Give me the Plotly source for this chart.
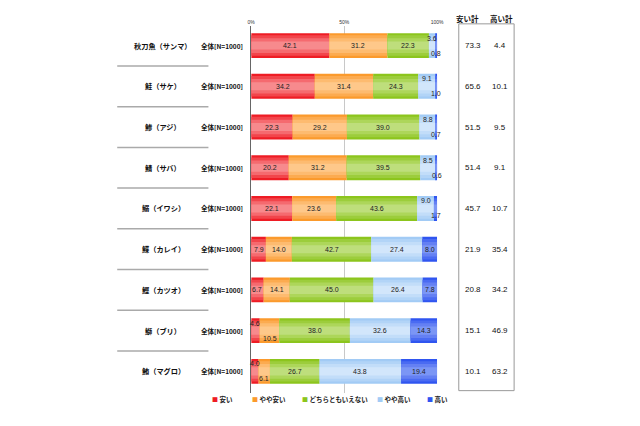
import plotly.graph_objects as go

# data
fish = ['秋刀魚（サンマ）', '鮭（サケ）', '鯵（アジ）', '鯖（サバ）', '鰯（イワシ）',
        '鰈（カレイ）', '鰹（カツオ）', '鰤（ブリ）', '鮪（マグロ）']
group_label = '全体[N=1000]'
answers = ['安い', 'やや安い', 'どちらともいえない', 'やや高い', '高い']

yasui = [42.1, 34.2, 22.3, 20.2, 22.1, 7.9, 6.7, 4.6, 4.0]
yaya_yasui = [31.2, 31.4, 29.2, 31.2, 23.6, 14.0, 14.1, 10.5, 6.1]
dochira = [22.3, 24.3, 39.0, 39.5, 43.6, 42.7, 45.0, 38.0, 26.7]
yaya_takai = [3.6, 9.1, 8.8, 8.5, 9.0, 27.4, 26.4, 32.6, 43.8]
takai = [0.8, 1.0, 0.7, 0.6, 1.7, 8.0, 7.8, 14.3, 19.4]

yasui_total = [73.3, 65.6, 51.5, 51.4, 45.7, 21.9, 20.8, 15.1, 10.1]
takai_total = [4.4, 10.1, 9.5, 9.1, 10.7, 35.4, 34.2, 46.9, 63.2]

tick_vals = [0, 50, 100]
tick_text = ['0%', '50%', '100%']

series = [yasui, yaya_yasui, dochira, yaya_takai, takai]

# edge -> centre tones to fake the gradient fill
shades = [
    ['#ee1c24', '#f2454b', '#f56a6f', '#f78a8d'],
    ['#fb9a2c', '#fcab50', '#fdbb70', '#fec88a'],
    ['#8cc51d', '#9ccd3c', '#add65a', '#bede7c'],
    ['#a2cbf5', '#b2d4f7', '#c2ddf9', '#d2e6fb'],
    ['#2f55f0', '#4a6bf2', '#6480f3', '#7b96f5'],
]
widths = [0.61, 0.5, 0.36, 0.2]

JP = 'Noto Sans CJK JP'
NUM = 'Liberation Sans'

rows = list(range(len(fish)))
fig = go.Figure()

bases = [[0.0] * len(fish)]
for s in series[:-1]:
    bases.append([b + v for b, v in zip(bases[-1], s)])

for s, base, cols in zip(series, bases, shades):
    for w, c in zip(widths, cols):
        fig.add_trace(go.Bar(x=s, y=rows, base=base, orientation='h', width=w,
                             marker=dict(color=c, line=dict(width=0)),
                             showlegend=False, hoverinfo='skip'))

annotations = []

# segment value labels, small segments pushed up / down
for i in rows:
    vals = [s[i] for s in series]
    shift = [0] * 5
    if vals[4] < 5:
        shift[4], shift[3] = -1, 1
    if vals[0] < 5:
        shift[0], shift[1] = 1, -1
    for j, v in enumerate(vals):
        annotations.append(dict(x=bases[j][i] + v / 2, y=i, xref='x', yref='y',
                                text=f'{v:.1f}', showarrow=False, xanchor='center',
                                yshift=7.5 * shift[j],
                                font=dict(family=NUM, size=7, color='#222')))

# left side labels
for i, name in enumerate(fish):
    annotations.append(dict(x=0.253, y=i, xref='paper', yref='y', text=f'<b>{name}</b>',
                            xanchor='center', showarrow=False,
                            font=dict(family=JP, size=7.2, color='#111')))
    annotations.append(dict(x=0.383, y=i, xref='paper', yref='y', text=f'<b>{group_label}</b>',
                            xanchor='right', showarrow=False,
                            font=dict(family=JP, size=6.5, color='#111')))

# right side totals table
annotations.append(dict(x=0.737, y=0.974, xref='paper', yref='paper', text='<b>安い計</b>',
                        xanchor='center', showarrow=False,
                        font=dict(family=JP, size=7.5, color='#111')))
annotations.append(dict(x=0.791, y=0.974, xref='paper', yref='paper', text='<b>高い計</b>',
                        xanchor='center', showarrow=False,
                        font=dict(family=JP, size=7.5, color='#111')))
for i in rows:
    annotations.append(dict(x=0.745, y=i, xref='paper', yref='y', text=f'{yasui_total[i]:.1f}',
                            xanchor='center', showarrow=False,
                            font=dict(family=NUM, size=8, color='#111')))
    annotations.append(dict(x=0.789, y=i, xref='paper', yref='y', text=f'{takai_total[i]:.1f}',
                            xanchor='center', showarrow=False,
                            font=dict(family=NUM, size=8, color='#111')))

# hand made legend along the bottom
legend_x = [0.328, 0.391, 0.471, 0.59, 0.669]
for name, cols, lx in zip(answers, shades, legend_x):
    annotations.append(dict(x=lx, y=0.047, xref='paper', yref='paper', xanchor='left',
                            text=f"<span style='color:{cols[0]};font-size:6px'>■</span> <b>{name}</b>",
                            showarrow=False, font=dict(family=JP, size=6.5, color='#222')))

shapes = []
for i in rows[:-1]:
    shapes.append(dict(type='line', xref='paper', yref='y', x0=0.18, x1=0.325,
                       y0=i + 0.5, y1=i + 0.5, line=dict(color='#aaaaaa', width=1.5)))
shapes.append(dict(type='rect', xref='paper', yref='paper', x0=0.723, x1=0.811,
                   y0=0.083, y1=0.944, line=dict(color='#999999', width=1)))

fig.update_layout(
    width=640, height=426,
    margin=dict(l=0, r=0, t=0, b=0),
    paper_bgcolor='white', plot_bgcolor='white',
    barmode='overlay', showlegend=False,
    annotations=annotations, shapes=shapes,
    xaxis=dict(domain=[0.393, 0.6886], range=[0, 100], side='top',
               tickvals=tick_vals, ticktext=tick_text, ticks='',
               tickfont=dict(family=NUM, size=5, color='#333'),
               showgrid=True, gridcolor='#c8c8c8', gridwidth=1, zeroline=False),
    yaxis=dict(domain=[1 - 393 / 426, 1 - 26 / 426], range=[8.53, -0.48],
               showticklabels=False, ticks='', showgrid=False, zeroline=False,
               showline=True, linecolor='#666666', linewidth=1),
)

# page body has a default 8px margin, drop it so the figure sits at the corner
fig.write_html("out.html", config={'displayModeBar': False},
               post_script="document.body.style.margin='0';")
